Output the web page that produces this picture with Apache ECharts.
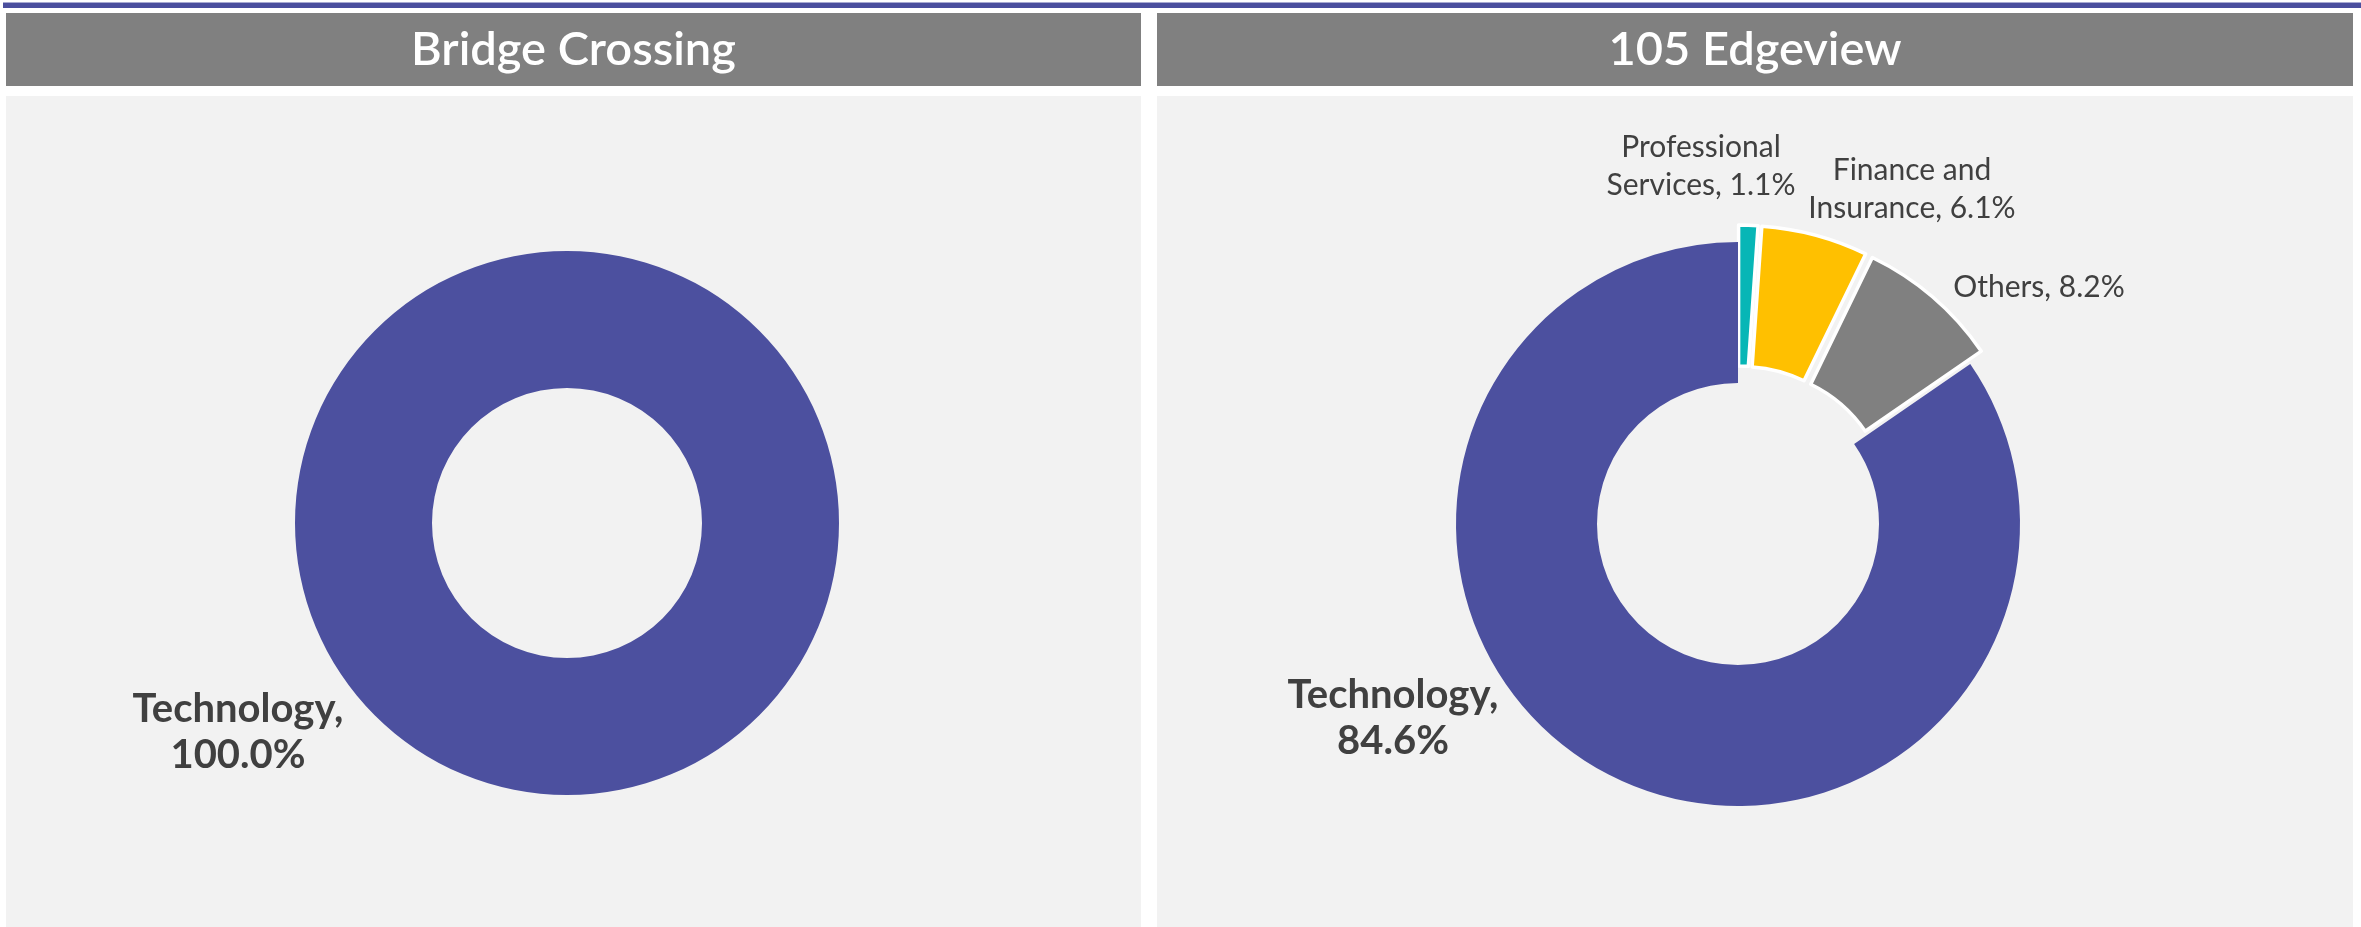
<!DOCTYPE html>
<html>
<head>
<meta charset="utf-8">
<script src="https://cdn.jsdelivr.net/npm/echarts@6/dist/echarts.min.js"></script>
<style>
  html, body { margin: 0; padding: 0; background: #fff; }
  #main { width: 2361px; height: 927px; }
</style>
</head>
<body>
<div id="main"></div>
<script>
// data
const panelTitles = ['Bridge Crossing', '105 Edgeview'];
const leftCategories = ['Technology'];
const leftValues = [100.0];
const rightCategories = ['Professional\nServices', 'Finance and\nInsurance', 'Others', 'Technology'];
const rightValues = [1.1, 6.1, 8.2, 84.6];
const rightExploded = [true, true, true, false];

// colours
const PURPLE = '#4C509F';
const sliceColors = { 'Technology': PURPLE, 'Professional\nServices': '#07B6B6', 'Finance and\nInsurance': '#FFC000', 'Others': '#808080' };

// label anchors (block centres), by series index (2 = left labels, 3 = right labels)
const labelPos = {
  2: [[238, 732]],
  3: [[1701, 166], [1912, 189], [2039, 287], [1393, 718]]
};

function labelFor(name, value) {
  const big = name === 'Technology';
  const sep = big ? ',\n' : ', ';
  return {
    text: name + sep + value.toFixed(1) + '%',
    style: big
      ? { fontSize: 40, fontWeight: 'bold', lineHeight: 46 }
      : { fontSize: 30, fontWeight: 'normal', lineHeight: 38 }
  };
}

// visible slices
function buildSlices(names, values, exploded) {
  return names.map(function (n, i) {
    const color = sliceColors[n];
    const small = !!(exploded && exploded[i]);
    const itemStyle = small
      ? { color: color, borderColor: '#fff', borderWidth: 3.5 }
      : { color: color, borderWidth: 0 };
    return {
      name: n,
      value: values[i],
      selected: small,
      itemStyle: itemStyle,
      select: { itemStyle: itemStyle }
    };
  });
}

// label-only copies (selected sectors pin their labels, so labels live in a twin series)
function buildLabels(names, values) {
  return names.map(function (n, i) {
    const lbl = labelFor(n, values[i]);
    return {
      name: n,
      value: values[i],
      label: Object.assign({ formatter: lbl.text }, lbl.style)
    };
  });
}

const chart = echarts.init(document.getElementById('main'));

const panels = [
  { x: 6, w: 1135 },
  { x: 1157, w: 1196 }
];

const graphics = [
  { type: 'rect', shape: { x: 3, y: 2, width: 2358, height: 1 }, style: { fill: '#A8AAD2' } },
  { type: 'rect', shape: { x: 3, y: 3, width: 2358, height: 5 }, style: { fill: '#4B4F9E' } }
];
panels.forEach(function (p, i) {
  graphics.push({ type: 'rect', shape: { x: p.x, y: 13, width: p.w, height: 73 }, style: { fill: '#808080' } });
  graphics.push({ type: 'rect', shape: { x: p.x, y: 96, width: p.w, height: 831 }, style: { fill: '#F2F2F2' } });
  graphics.push({
    type: 'text', x: p.x + p.w / 2, y: 50,
    style: { text: panelTitles[i], fill: '#fff', font: '600 47px Lato', align: 'center', verticalAlign: 'middle' }
  });
});

const baseSeries = {
  type: 'pie',
  startAngle: 90,
  clockwise: true,
  avoidLabelOverlap: false,
  animation: false,
  emphasis: { disabled: true },
  labelLine: { show: false }
};

const labelSeries = Object.assign({}, baseSeries, {
  silent: true,
  z: 5,
  itemStyle: { color: 'rgba(0,0,0,0)', borderWidth: 0 },
  label: { show: true, position: 'outside', color: '#404040', fontFamily: 'Lato', align: 'center' },
  labelLayout: function (params) {
    const list = labelPos[params.seriesIndex];
    const p = list && list[params.dataIndex];
    if (!p) return {};
    return { x: p[0], y: p[1], align: 'center', verticalAlign: 'middle' };
  }
});

chart.setOption({
  backgroundColor: '#fff',
  graphic: graphics,
  series: [
    Object.assign({}, baseSeries, {
      center: [567, 523],
      radius: [135, 272],
      label: { show: false },
      data: buildSlices(leftCategories, leftValues, null)
    }),
    Object.assign({}, baseSeries, {
      center: [1738, 524],
      radius: [141, 282],
      selectedMode: 'multiple',
      selectedOffset: 17,
      label: { show: false },
      data: buildSlices(rightCategories, rightValues, rightExploded)
    }),
    Object.assign({}, labelSeries, {
      center: [567, 523],
      radius: [135, 272],
      data: buildLabels(leftCategories, leftValues)
    }),
    Object.assign({}, labelSeries, {
      center: [1738, 524],
      radius: [141, 282],
      data: buildLabels(rightCategories, rightValues)
    })
  ]
});
</script>
</body>
</html>
